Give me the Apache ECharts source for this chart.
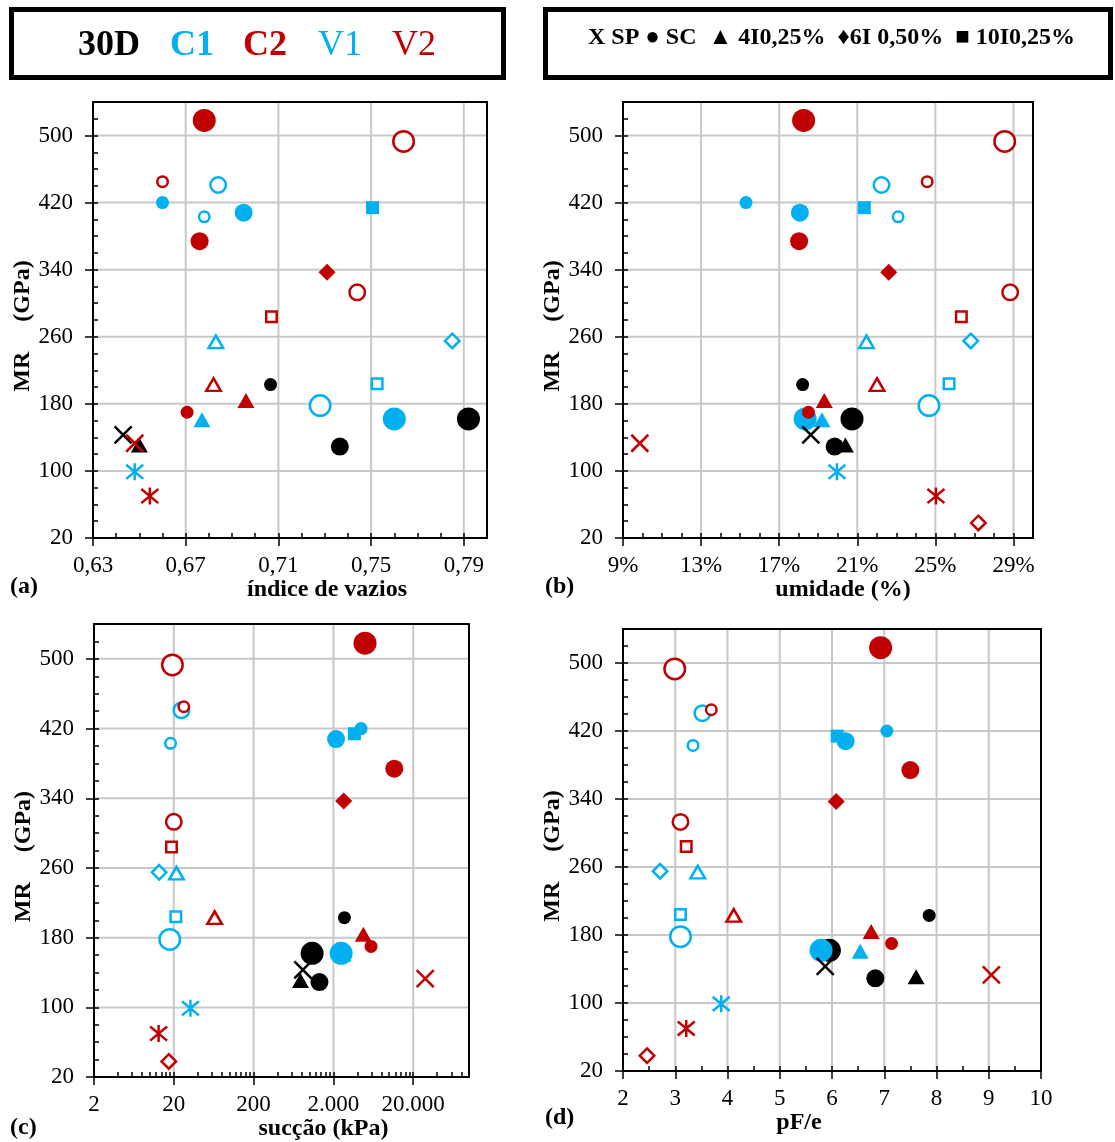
<!DOCTYPE html>
<html><head><meta charset="utf-8">
<script src="https://cdn.jsdelivr.net/npm/echarts@6/dist/echarts.min.js"></script>
<style>html,body{margin:0;padding:0;background:#fff}#c{width:1115px;height:1142px}</style>
</head><body><div id="c"></div>
<script>
// ---------------- DATA ----------------
const materials = ['30D', 'C1', 'C2', 'V1', 'V2'];
const treatments = ['SP', 'SC', '4I0,25%', '6I 0,50%', '10I0,25%'];

// one entry per specimen (drawing order)
const ptMaterial  = ['30D','30D','30D','C1','C1','C1','C2','C2','C2','V1','V1','V1','V2','V2','V2',
                     '30D','C1','C2','V1','V2', 'C2','V1','V2', 'C1','V1','V2', '30D','C2','V1','V2'];
const ptTreatment = ['SC','SC','SC','SC','SC','SC','SC','SC','SC','SC','SC','SC','SC','SC','SC',
                     '4I0,25%','4I0,25%','4I0,25%','4I0,25%','4I0,25%',
                     '6I 0,50%','6I 0,50%','6I 0,50%',
                     '10I0,25%','10I0,25%','10I0,25%',
                     'SP','SP','SP','SP'];
const ptSample    = [1,2,3,1,2,3,1,2,3,1,2,3,1,2,3, 1,1,1,1,1, 1,1,1, 1,1,1, 1,1,1,1];

const MR        = [203,129,162, 420,408,162, 170,374,518, 403,441,178, 445,313,493,
                   131,161,184,254,203, 337,255,38, 414,204,284, 143,133,99,70];
const voidRatio = [0.7066,0.7365,0.792, 0.660,0.695,0.760, 0.6706,0.676,0.678, 0.678,0.684,0.728, 0.660,0.744,0.764,
                   0.650,0.677,0.696,0.683,0.682, 0.731,0.785,0.91, 0.7506,0.7526,0.707, 0.643,0.648,0.648,0.6545];
const moisture  = [18.2,19.84,20.73, 15.30,18.06,18.33, 18.5,18.02,18.25, 23.09,22.24,24.67, 24.58,28.83,28.55,
                   20.39,19.19,19.31,21.47,22.01, 22.61,26.81,27.2, 21.36,25.7,26.33, 18.62,9.86,19.96,25.03];
const suction   = [2745,1336,1082, 4440,2160,2500, 5920,11570,4980, 18.2,24.9,17.8, 26.7,20.0,19.2,
                   773,2640,4740,21.6,65, 2690,13.1,17.3, 3665,21.2,18.7, 828,28250,32.3,12.9];
const pFe       = [7.86,6.83,5.95, 7.05,6.26,5.79, 7.14,7.50,6.93, 3.34,3.52,3.10, 3.69,3.10,2.99,
                   7.61,6.54,6.75,3.43,4.12, 6.08,2.71,2.46, 6.10,3.10,3.21, 5.87,9.05,3.88,3.21];

const yTicks  = [20,100,180,260,340,420,500];
const xTicksA = [0.63,0.67,0.71,0.75,0.79];
const xTicksB = [9,13,17,21,25,29];
const xTicksC = [2,20,200,2000,20000];
const xTicksD = [2,3,4,5,6,7,8,9,10];
const minorC  = [2,4,6,8,10,12,14,16,18, 20,40,60,80,100,120,140,160,180, 200,400,600,800,1000,1200,1400,1600,1800,
                 2000,4000,6000,8000,10000,12000,14000,16000,18000, 20000,40000,60000,80000];

// ---------------- STYLE ----------------
const SERIF = '"Liberation Serif", "Times New Roman", serif';
const matColor = {'30D':'#000000','C1':'#00B0F0','C2':'#C00000','V1':'#00B0F0','V2':'#C00000'};
const matOpen  = {'30D':false,'C1':false,'C2':false,'V1':true,'V2':true};
const scSize = {1:13, 2:18, 3:23};
const OPEN_W = 2.5;
const X_PATH = 'path://M0,0L10,10M10,0L0,10';
const AST_PATH = 'path://M0,0L10,10M10,0L0,10M5,-1L5,11';
const Y_MIN = 20, Y_MAX = 540;

function styleFor(k) {
  const m = ptMaterial[k], t = ptTreatment[k], c = matColor[m], open = matOpen[m];
  let symbol, size;
  if (t === 'SC') { symbol = 'circle'; size = scSize[ptSample[k]]; }
  else if (t === '4I0,25%') { symbol = 'triangle'; size = [17, 15]; }
  else if (t === '6I 0,50%') { symbol = 'diamond'; size = 17; }
  else if (t === '10I0,25%') { symbol = 'rect'; size = 13; }
  else {
    symbol = open ? AST_PATH : X_PATH; size = 17;
    return { symbol, symbolSize: size, itemStyle: { color: 'rgba(0,0,0,0)', borderColor: c, borderWidth: 2.5, opacity: 1 } };
  }
  if (open) {
    const s = Array.isArray(size) ? size.map(v => v - OPEN_W) : size - OPEN_W;
    return { symbol, symbolSize: s, itemStyle: { color: '#ffffff', borderColor: c, borderWidth: OPEN_W, opacity: 1 } };
  }
  return { symbol, symbolSize: size, itemStyle: { color: c, borderWidth: 0, opacity: 1 } };
}

function buildData(xs) {
  const out = [];
  for (let k = 0; k < MR.length; k++) {
    if (xs[k] == null) continue;
    const st = styleFor(k);
    out.push(Object.assign({ name: ptMaterial[k] + ' ' + ptTreatment[k], value: [xs[k], MR[k]] }, st));
  }
  return out;
}

const grids = [
  { left: 93, top: 102, width: 394, height: 436 },
  { left: 623, top: 102, width: 410, height: 436 },
  { left: 94, top: 624, width: 375, height: 456 },
  { left: 623, top: 629, width: 418, height: 442 }
].map(g => Object.assign({ show: false, containLabel: false }, g));

const labelStyle = { color: '#000', fontFamily: SERIF, fontSize: 23 };
const nameStyleBase = { color: '#000', fontFamily: SERIF, fontSize: 24, fontWeight: 'bold' };
const GRID_COLOR = '#c8c8c8';
const blackLine = { show: true, onZero: false, lineStyle: { color: '#000', width: 2 } };

const fmtComma = v => v.toFixed(2).replace('.', ',');
const fmtPct = v => Math.round(v) + '%';
const fmtThousands = v => String(Math.round(v)).replace(/\B(?=(\d{3})+(?!\d))/g, '.');
const fmtPlain = v => String(Math.round(v));

const xDefs = [
  { type: 'value', min: 0.63, max: 0.80, interval: 0.04, ticks: xTicksA, minorInterval: 0.01, fmt: fmtComma, name: 'índice de vazios', pad: [0,0,0,74] },
  { type: 'value', min: 9, max: 30, interval: 4, ticks: xTicksB, minorInterval: 1, fmt: fmtPct, name: 'umidade (%)', pad: [0,0,0,30] },
  { type: 'log', min: 2, max: 100000, interval: 1, ticks: xTicksC, minorValues: minorC, fmt: fmtThousands, name: 'sucção (kPa)', pad: [0,0,0,84] },
  { type: 'value', min: 2, max: 10, interval: 1, ticks: xTicksD, minorInterval: 0.5, fmt: fmtPlain, name: 'pF/e', pad: [0,66,0,0] }
];

const xAxes = [], yAxes = [];
// 0..3 : main axes (line, labels, outer major ticks, name)
xDefs.forEach((d, i) => {
  const main = {
    type: d.type, gridIndex: i, min: d.min, max: d.max, position: 'bottom', z: 3,
    axisLine: blackLine, splitLine: { show: false }, minorTick: { show: false },
    axisTick: { show: true, inside: false, length: 8, lineStyle: { color: '#000', width: 1.5 }, customValues: d.ticks },
    axisLabel: { show: true, margin: 16, formatter: d.fmt, customValues: d.ticks, showMaxLabel: true, showMinLabel: true, hideOverlap: false, ...labelStyle },
    name: d.name, nameLocation: 'middle', nameGap: 36,
    nameTextStyle: Object.assign({ padding: d.pad }, nameStyleBase)
  };
  if (d.type === 'log') { main.logBase = 10; }
  else { main.interval = d.interval; }
  xAxes.push(main);
});
// 4..7 : inner minor ticks
xDefs.forEach((d, i) => {
  const minor = {
    type: d.type, gridIndex: i, min: d.min, max: d.max, position: 'bottom', z: 3,
    axisLine: { show: false }, splitLine: { show: false }, axisLabel: { show: false },
    axisTick: { show: true, inside: true, length: 5, lineStyle: { color: '#000', width: 1.5 } }
  };
  if (d.type === 'log') { minor.logBase = 10; minor.axisTick.customValues = d.minorValues; }
  else { minor.interval = d.minorInterval; }
  xAxes.push(minor);
});
// 8..11 : top frame line
xDefs.forEach((d, i) => {
  const g = {
    type: d.type, gridIndex: i, min: d.min, max: d.max, position: 'top', z: 3,
    axisLine: blackLine, axisTick: { show: false }, axisLabel: { show: false }, splitLine: { show: false }
  };
  if (d.type === 'log') g.logBase = 10; else g.interval = d.interval;
  xAxes.push(g);
});

for (let i = 0; i < 4; i++) {
  yAxes.push({
    type: 'value', gridIndex: i, min: Y_MIN, max: Y_MAX, interval: 80, position: 'left', z: 3,
    axisLine: blackLine, splitLine: { show: false }, minorTick: { show: false },
    axisTick: { show: true, inside: false, length: 8, lineStyle: { color: '#000', width: 1.5 }, customValues: yTicks },
    axisLabel: { show: true, margin: 20, customValues: yTicks, showMaxLabel: true, showMinLabel: true, hideOverlap: false, ...labelStyle },
    name: 'MR\u00a0\u00a0\u00a0\u00a0\u00a0(GPa)', nameLocation: 'middle', nameGap: 57,
    nameTextStyle: Object.assign({ padding: [0, 12, 0, 0] }, nameStyleBase)
  });
}
for (let i = 0; i < 4; i++) {
  yAxes.push({
    type: 'value', gridIndex: i, min: Y_MIN, max: Y_MAX, interval: 20, position: 'left', z: 3,
    axisLine: { show: false }, splitLine: { show: false }, axisLabel: { show: false },
    axisTick: { show: true, inside: true, length: 5, lineStyle: { color: '#000', width: 1.5 } }
  });
}
for (let i = 0; i < 4; i++) {
  yAxes.push({
    type: 'value', gridIndex: i, min: Y_MIN, max: Y_MAX, interval: 80, position: 'right', z: 3,
    axisLine: blackLine, axisTick: { show: false }, axisLabel: { show: false }, splitLine: { show: false }
  });
}

// gridlines drawn through the axes' own scales
function vGridSeries(i, ticks) {
  return {
    type: 'custom', xAxisIndex: i, yAxisIndex: i, silent: true, z: 1, clip: false,
    data: ticks.map(v => [v, Y_MIN]),
    renderItem: (p, api) => {
      const a = api.coord([api.value(0), Y_MIN]), b = api.coord([api.value(0), Y_MAX]);
      return { type: 'line', shape: { x1: a[0], y1: a[1], x2: b[0], y2: b[1] }, style: { stroke: GRID_COLOR, lineWidth: 2 } };
    }
  };
}
function hGridSeries(i, xmin, xmax) {
  return {
    type: 'custom', xAxisIndex: i, yAxisIndex: i, silent: true, z: 1, clip: false,
    data: yTicks.map(v => [xmin, v]),
    renderItem: (p, api) => {
      const a = api.coord([xmin, api.value(1)]), b = api.coord([xmax, api.value(1)]);
      return { type: 'line', shape: { x1: a[0], y1: a[1], x2: b[0], y2: b[1] }, style: { stroke: GRID_COLOR, lineWidth: 2 } };
    }
  };
}

const xSets = [voidRatio, moisture, suction, pFe];
const series = [];
xDefs.forEach((d, i) => {
  series.push(vGridSeries(i, d.ticks));
  series.push(hGridSeries(i, d.min, d.max));
});
xSets.forEach((xs, i) => {
  series.push({
    type: 'scatter', xAxisIndex: i, yAxisIndex: i, clip: true, silent: true,
    itemStyle: { opacity: 1 }, data: buildData(xs), z: 5
  });
});

const txt = (x, y, text, fill, size, weight) => ({
  type: 'text', x, y, z: 100,
  style: { text, fill, fontFamily: SERIF, fontSize: size, fontWeight: weight, align: 'left', verticalAlign: 'middle' }
});

const graphic = [
  { type: 'rect', z: 90, shape: { x: 11.5, y: 9.5, width: 492, height: 68 }, style: { fill: '#fff', stroke: '#000', lineWidth: 5 } },
  { type: 'rect', z: 90, shape: { x: 545.5, y: 9.5, width: 565, height: 68 }, style: { fill: '#fff', stroke: '#000', lineWidth: 5 } },
  txt(78, 46, materials[0], matColor['30D'], 36, 'bold'),
  txt(170, 46, materials[1], matColor['C1'], 36, 'bold'),
  txt(243, 46, materials[2], matColor['C2'], 36, 'bold'),
  txt(318, 46, materials[3], matColor['V1'], 36, 'normal'),
  txt(392, 46, materials[4], matColor['V2'], 36, 'normal'),
  txt(588, 38, 'X ' + treatments[0] + ' \u25CF ' + treatments[1] + '  \u25B2 ' + treatments[2] + '  \u2666' + treatments[3] + '  \u25A0 ' + treatments[4], '#000', 24, 'bold'),
  txt(10, 587, '(a)', '#000', 24, 'bold'),
  txt(545, 587, '(b)', '#000', 24, 'bold'),
  txt(10, 1128, '(c)', '#000', 24, 'bold'),
  txt(545, 1118, '(d)', '#000', 24, 'bold')
];

const chart = echarts.init(document.getElementById('c'), null, { renderer: 'canvas' });
chart.setOption({
  animation: false,
  backgroundColor: '#ffffff',
  grid: grids,
  xAxis: xAxes,
  yAxis: yAxes,
  series,
  graphic
});
</script></body></html>
